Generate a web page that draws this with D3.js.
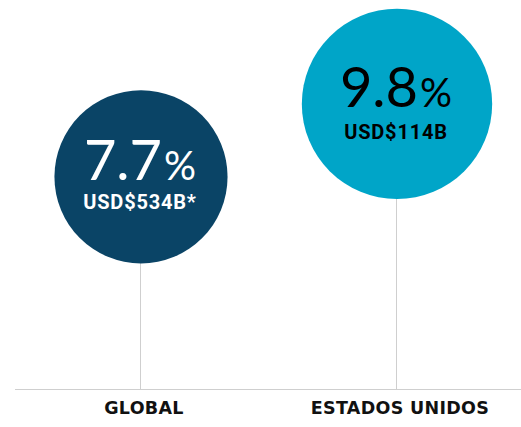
<!DOCTYPE html>
<html>
<head>
<meta charset="utf-8">
<script src="https://cdn.jsdelivr.net/npm/d3@7"></script>
<style>
  body { margin: 0; background: #fff; }
  svg { display: block; }
</style>
</head>
<body>
<div id="chart"></div>
<script>
// data
const categories = ["GLOBAL", "ESTADOS UNIDOS"];
const growth = [7.7, 9.8];
const amounts = ["USD$534B*", "USD$114B"];
const colors = ["#0a4466", "#00a5c8"];
const textColors = ["#ffffff", "#000000"];

const width = 521, height = 427;
const baseY = 389;

const svg = d3.select("#chart").append("svg")
    .attr("width", width)
    .attr("height", height);

const x = d3.scaleBand()
    .domain(categories)
    .range([13, 525]);

// top of each bubble sits at its value
const y = d3.scaleLinear()
    .domain([0, 10])
    .range([baseY, 1]);

const r = d3.scaleLinear()
    .domain([0, 10])
    .range([55, 96]);

const data = categories.map(function(c, i) {
    return { cat: c, value: growth[i], amount: amounts[i], fill: colors[i], ink: textColors[i] };
});

const cx = d => x(d.cat) + x.bandwidth() / 2;
const cy = d => y(d.value) + r(d.value);

// baseline
svg.append("line")
    .attr("x1", 15).attr("x2", width)
    .attr("y1", baseY + 0.5).attr("y2", baseY + 0.5)
    .attr("stroke", "#cfcfcf")
    .attr("stroke-width", 1);

// stems
svg.selectAll(".stem")
    .data(data)
    .enter().append("line")
    .attr("class", "stem")
    .attr("x1", d => Math.round(cx(d)) - 0.5)
    .attr("x2", d => Math.round(cx(d)) - 0.5)
    .attr("y1", d => cy(d))
    .attr("y2", baseY)
    .attr("stroke", "#cfcfcf")
    .attr("stroke-width", 1);

// bubbles
svg.selectAll(".bubble")
    .data(data)
    .enter().append("circle")
    .attr("class", "bubble")
    .attr("cx", cx)
    .attr("cy", cy)
    .attr("r", d => r(d.value))
    .attr("fill", d => d.fill);

// big percentage
const pct = svg.selectAll(".pct")
    .data(data)
    .enter().append("text")
    .attr("class", "pct")
    .attr("x", d => cx(d) - 1)
    .attr("y", d => cy(d) + 3)
    .attr("text-anchor", "middle")
    .attr("fill", d => d.ink)
    .style("font-family", "Lato, 'Open Sans', sans-serif")
    .style("font-weight", 400)
    .style("font-size", "56px");

pct.append("tspan").text(d => d.value.toFixed(1));
pct.append("tspan")
    .attr("dx", 2)
    .style("font-size", "40px")
    .text("%");

// amount
svg.selectAll(".amt")
    .data(data)
    .enter().append("text")
    .attr("class", "amt")
    .attr("x", d => cx(d) - 1)
    .attr("y", (d, i) => cy(d) + (i === 0 ? 32 : 35))
    .attr("text-anchor", "middle")
    .attr("fill", d => d.ink)
    .style("font-family", "Roboto, sans-serif")
    .style("font-weight", 700)
    .style("font-size", "20px")
    .style("letter-spacing", "0.8px")
    .text(d => d.amount);

// category labels
svg.selectAll(".cat")
    .data(data)
    .enter().append("text")
    .attr("class", "cat")
    .attr("x", d => cx(d) + 3)
    .attr("y", baseY + 25)
    .attr("text-anchor", "middle")
    .attr("fill", "#111")
    .style("font-family", "'DejaVu Sans', sans-serif")
    .style("font-weight", 700)
    .style("font-size", "17.5px")
    .style("letter-spacing", "0.3px")
    .text(d => d.cat);
</script>
</body>
</html>
